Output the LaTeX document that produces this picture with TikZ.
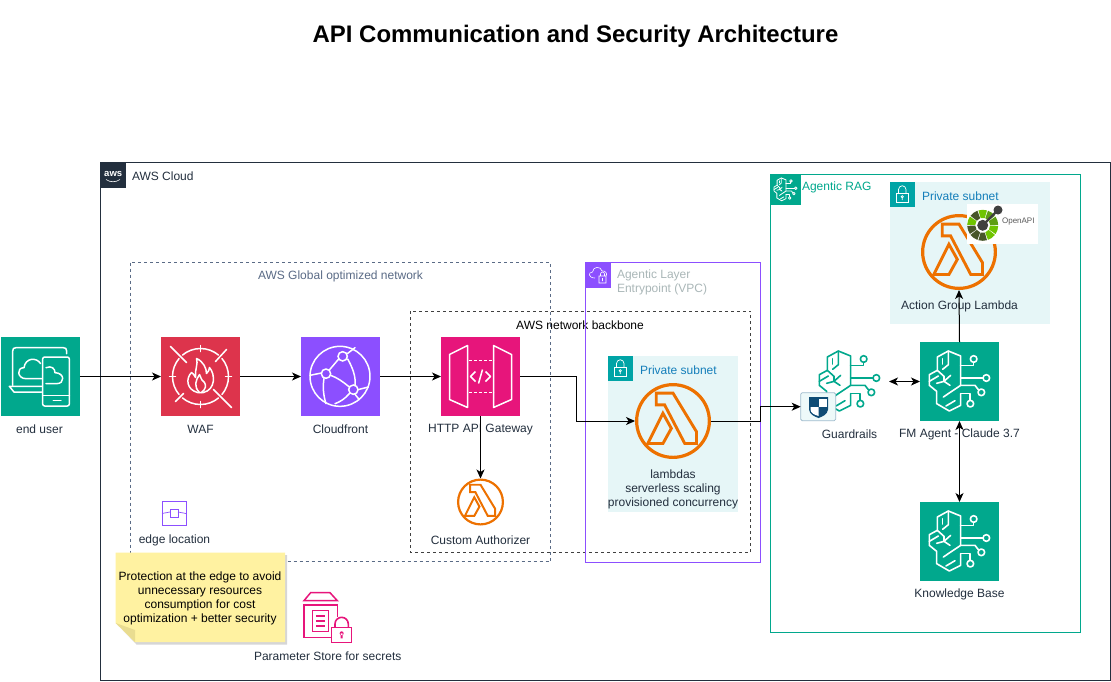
\documentclass[tikz,border=0pt]{standalone}
\usepackage{fontspec}
\setmainfont{Liberation Sans}
\usetikzlibrary{arrows.meta}
\definecolor{ink}{HTML}{232F3E}
\definecolor{teal}{HTML}{01A88D}
\definecolor{wafred}{HTML}{DD344C}
\definecolor{cfpurple}{HTML}{8C4FFF}
\definecolor{apipink}{HTML}{E7157B}
\definecolor{lamorange}{HTML}{ED7100}
\definecolor{subfill}{HTML}{E6F6F7}
\definecolor{subicon}{HTML}{00A4A6}
\definecolor{subtext}{HTML}{147EBA}
\definecolor{dashblue}{HTML}{5A6B86}
\definecolor{vpcgray}{HTML}{AAB7B8}
\definecolor{noteyellow}{HTML}{FFF2A1}
\definecolor{notefold}{HTML}{E9DC90}
\definecolor{oalime}{HTML}{6FC400}
\definecolor{oamid}{HTML}{5E9E12}
\definecolor{oaolive}{HTML}{48562A}
\definecolor{shieldblue}{HTML}{0F4C75}
\tikzset{
  lbl/.style={font=\fontsize{12}{14}\selectfont,text=ink,align=center,inner sep=0pt,outer sep=0pt,yshift=-.4pt},
  iconbox/.style={minimum size=79pt,inner sep=0pt,outer sep=0pt,anchor=north west},
  round/.style={minimum size=#1,inner sep=0pt,outer sep=0pt,circle},
  conn/.style={draw=black,line width=1pt,-{Stealth[length=9pt,width=8pt,inset=2.5pt]}},
  conn2/.style={draw=black,line width=1pt,{Stealth[length=9pt,width=8pt,inset=2.5pt]}-{Stealth[length=9pt,width=8pt,inset=2.5pt]}},
  dash3/.style={dash pattern=on 3pt off 3pt,line width=.8pt},
}
\newcommand{\BrainGlyph}[5]{% x y colour linewidth unit
 \begin{scope}[shift={(#1,#2)},x=#5pt,y=-#5pt,draw=#3,line width=#4,line join=round,line cap=round]
  \draw (122,70) -- (122,42) -- (85,27) -- (52,45) -- (52,85) -- (28,98) -- (28,130) -- (50,148) -- (50,185) -- (88,207) -- (122,190) -- (122,155);
  \draw (122,70) -- (122,130) -- (70,165);
  \draw (85,27) -- (85,68) -- (68,82);
  \draw (68,50) -- (68,66);
  \draw (52,85) -- (72,103) -- (72,118);
  \draw (28,118) -- (55,102);
  \draw (92,100) -- (72,118) -- (50,124);
  \draw (72,118) -- (90,130);
  \draw (78,192) -- (105,176);
  \draw (122,70) -- (160,70) -- (160,61);
  \draw (161,51) circle[radius=10];
  \draw (122,108) -- (189,108);
  \draw (199,108) circle[radius=10];
  \draw (122,130) -- (165,130) -- (175,143);
  \draw (184,151) circle[radius=10];
  \draw (122,155) -- (150,155) -- (150,175);
  \draw (151,185) circle[radius=10];
 \end{scope}}
\newcommand{\LambdaIcon}[5]{% cx cy scale name lw
 \node[round=#3*226pt] (#4) at (#1,#2) {};
 \begin{scope}[shift={(#1,#2)},x=#3pt,y=-#3pt,draw=lamorange,line join=miter]
  \draw[line width=#5pt] (0,0) circle[radius=#3*226pt/2-#5pt/2];
  \draw[line width=.9*#5pt] (-50,-83) -- (0,-83) -- (70,32) -- (70,67) -- (35,67) -- (-25,-48) -- (-50,-48) -- cycle;
  \draw[line width=.9*#5pt] (-30,-23) -- (-5,22) -- (-30,67) -- (-75,67) -- cycle;
 \end{scope}}
\newcommand{\SubnetIcon}[2]{%
 \fill[subicon] (#1,#2) rectangle ++(24.5,24.5);
 \begin{scope}[shift={(#1,#2)},x=1pt,y=-1pt]
  \draw[white,line width=.7pt] (6,11) rectangle (18.5,20.5);
  \draw[white,line width=.7pt] (8.5,11) -- (8.5,7.5) arc[start angle=180,end angle=0,radius=3.75pt] -- (16,11);
  \draw[white,line width=.7pt] (12.25,14.8) circle[radius=1.1pt] (12.25,16) -- (12.25,18);
 \end{scope}}
\begin{document}
\begin{tikzpicture}[x=1pt,y=-1pt]
\useasboundingbox (0,0) rectangle (1111,681);
\fill[white] (0,0) rectangle (1111,681);
% title
\node[font=\fontsize{23.95}{28}\bfseries\selectfont,text=black,inner sep=0pt] (title) at (575.5,36) {API Communication and Security Architecture};
% containers
\draw[ink,line width=1pt] (100.5,162.5) rectangle (1110.5,680.5);
\fill[ink] (101,163) rectangle (125.5,187.5);
\node[font=\fontsize{9.5}{10}\bfseries\selectfont,text=white,inner sep=0pt] (awslogo) at (113.2,173.5) {aws};
\draw[white,line width=.6pt] (106,179.5) .. controls (110,182.5) and (116,182.5) .. (120,179.5);
\node[lbl,anchor=west] (cloudlbl) at (132,175.5) {AWS Cloud};
\draw[dashblue,dash3] (130.5,262.5) rectangle (550.5,561.5);
\node[lbl,text=dashblue] (globallbl) at (340.5,275.5) {AWS Global optimized network};
% private subnet 1
\fill[subfill] (608,356) rectangle (738,512);
\SubnetIcon{608}{356}
\node[lbl,anchor=west,text=subtext] (sub1) at (640,369.5) {Private subnet};
\draw[black!75,dash3] (410.5,311) rectangle (750.5,552.5);
\node[lbl,text=black] (bblbl) at (580,325) {AWS network backbone};
% VPC
\draw[cfpurple,line width=1pt] (585.5,262.5) rectangle (760.5,562.5);
\fill[cfpurple] (585.5,262.5) rectangle (610.5,287.5);
\begin{scope}[shift={(586,263)},x=1pt,y=-1pt]
 \draw[white,line width=.6pt] (9,15) .. controls (2,15) and (2,9) .. (6.5,9) .. controls (7,3) and (15,3) .. (16,8) .. controls (19,7) and (22,11) .. (20,13);
 \draw[white,line width=.6pt] (13,13) rectangle (20,20) (14.5,13) -- (14.5,11) arc[start angle=180,end angle=0,radius=2pt] -- (18.5,13) (16.5,15) -- (16.5,18);
\end{scope}
\node[lbl,anchor=north west,text=vpcgray,align=left] (vpclbl) at (617,269) {Agentic Layer\\Entrypoint (VPC)};
% RAG
\draw[teal,line width=1pt] (770.5,174.5) rectangle (1080.5,632.5);
\fill[teal] (770.5,174.5) rectangle (800.5,204.5);
\BrainGlyph{770.5}{174.5}{white}{.8pt}{.127}
\node[lbl,anchor=west,text=teal] (raglbl) at (802,187) {Agentic RAG};
\fill[subfill] (890,182) rectangle (1050,324);
\SubnetIcon{890}{182}
\node[lbl,anchor=west,text=subtext] (sub2) at (922,195.5) {Private subnet};
% end user
\node[iconbox,fill=teal] (user) at (0.5,337) {};
\begin{scope}[shift={(0,337)},x=.3333pt,y=-.3333pt,draw=white,line width=1.5pt,line join=round,line cap=round]
 \draw (38,145) -- (38,42) .. controls (38,35) and (41,32) .. (48,32) -- (190,32) .. controls (197,32) and (200,35) .. (200,42) -- (200,50);
 \draw (125,148) -- (28,148) -- (42,165) -- (125,165);
 \draw[rounded corners=2pt] (128,60) rectangle (208,207);
 \draw (128,175) -- (208,175);
 \draw (160,190) -- (183,190);
 \draw (125,125) -- (78,125) .. controls (52,125) and (48,92) .. (72,92) .. controls (76,62) and (110,60) .. (122,80);
 \draw (138,92) .. controls (155,85) and (165,95) .. (165,107) .. controls (195,108) and (195,140) .. (170,140) -- (138,140);
\end{scope}
\node[lbl] (userlbl) at (39.5,429) {end user};
% WAF
\node[iconbox,fill=wafred] (waf) at (161,337) {};
\begin{scope}[shift={(waf.center)},x=1pt,y=-1pt,draw=white,line width=1.5pt,line cap=round,line join=round]
 \draw (-30,-30) -- (-14,-14) (26,-27) -- (15,-15) (-25,25) -- (-17,17) (31,31) -- (13,13);
 \draw (0,-28) arc[start angle=90,end angle=50,radius=28pt] (0,-28) arc[start angle=90,end angle=130,radius=28pt];
 \draw (28,0) arc[start angle=0,end angle=40,radius=28pt] (28,0) arc[start angle=0,end angle=-40,radius=28pt];
 \draw (0,28) arc[start angle=-90,end angle=-50,radius=28pt] (0,28) arc[start angle=-90,end angle=-130,radius=28pt];
 \draw (-28,0) arc[start angle=180,end angle=140,radius=28pt] (-28,0) arc[start angle=180,end angle=220,radius=28pt];
 \draw (0,-31) -- (0,-25) (31,0) -- (25,0) (0,31) -- (0,25) (-31,0) -- (-25,0);
 \draw (-3,16) .. controls (-14,13) and (-15,2) .. (-9,-4) .. controls (-6,-2) and (-6,0) .. (-5,1) .. controls (-6,-6) and (-2,-13) .. (-4,-18) .. controls (3,-15) and (6,-8) .. (6,-3) .. controls (8,-5) and (9,-7) .. (9,-9) .. controls (15,-2) and (15,13) .. (3,16) -- cycle;
 \draw (-1,16) .. controls (-7,10) and (-5,4) .. (-1,-2) .. controls (1,3) and (2,5) .. (4,6) .. controls (6,9) and (5,13) .. (1,16);
\end{scope}
\node[lbl] (waflbl) at (200.5,429) {WAF};
% Cloudfront
\node[iconbox,fill=cfpurple] (cf) at (301,337) {};
\begin{scope}[shift={(300,337)},x=.3333pt,y=-.3333pt,draw=white,line width=1.5pt,line cap=round]
 \draw (120,118) circle[radius=90];
 \draw (128,58) circle[radius=14] (78,110) circle[radius=14] (160,158) circle[radius=14];
 \draw (30,115) -- (64,108);
 \draw (88,99) -- (116,66);
 \draw (142,50) -- (165,32);
 \draw (143,66) .. controls (158,92) and (168,120) .. (165,144);
 \draw (92,115) .. controls (112,122) and (130,135) .. (148,150);
 \draw (72,124) .. controls (68,150) and (70,175) .. (78,200);
 \draw (105,200) .. controls (120,195) and (135,185) .. (148,170);
 \draw (165,172) -- (178,188);
 \draw (174,158) -- (205,150);
\end{scope}
\node[lbl] (cflbl) at (340.5,429) {Cloudfront};
% Gateway
\node[iconbox,fill=apipink] (gw) at (441,337) {};
\begin{scope}[shift={(gw.center)},x=1pt,y=-1pt,draw=white,line width=1.5pt,line join=round]
 \draw (-31,-22) -- (-13,-31) -- (-13,31) -- (-31,23) -- cycle;
 \draw (31,-22) -- (13,-31) -- (13,31) -- (31,23) -- cycle;
 \draw[dash pattern=on 3pt off 2pt] (-12,-16) -- (13,-16) (-12,16) -- (13,16);
 \draw (-5,-5) -- (-10,0) -- (-5,5) (5,-5) -- (10,0) -- (5,5) (-2,7) -- (2,-7);
\end{scope}
\node[lbl] (gwlbl) at (480.5,429) {HTTP API Gateway};
% lambdas
\LambdaIcon{673}{421}{.336}{lam}{3.2}
\node[lbl] (lamlbl) at (673,488.5) {lambdas\\serverless scaling\\provisioned concurrency};
\LambdaIcon{480.5}{502}{.208}{auth}{2.2}
\node[lbl] (authlbl) at (480.5,540) {Custom Authorizer};
\LambdaIcon{959}{252}{.336}{action}{3.2}
\node[lbl] (actionlbl) at (959.5,306) {Action Group Lambda};
% OpenAPI badge
\fill[white] (967,204) rectangle (1038,244);
\begin{scope}[shift={(982.7,225.3)},x=1pt,y=-1pt]
 \foreach \a/\c in {0/oamid,36/oamid,72/oalime,108/oaolive,144/oalime,180/oaolive,216/oaolive,252/oaolive,288/oalime,324/oalime}{
  \fill[\c] (\a+2:7.5pt) -- (\a+2:15.5pt) arc[start angle=\a+2,end angle=\a+34,radius=15.5pt] -- (\a+34:7.5pt) arc[start angle=\a+34,end angle=\a+2,radius=7.5pt] -- cycle;
 }
 \draw[black!75,line width=2.2pt] (0,0) -- (15.3,-15.3);
 \fill[black!75] (0,0) circle[radius=5.5pt] (15.3,-15.3) circle[radius=4.5pt];
\end{scope}
\node[font=\fontsize{8}{9}\selectfont,text=black!65,inner sep=0pt] (oalbl) at (1018.3,221.7) {OpenAPI};
% FM agent
\node[iconbox,fill=teal] (fm) at (920,342) {};
\BrainGlyph{920}{342}{white}{1.6pt}{.3333}
\node[lbl] (fmlbl) at (959.5,434) {FM Agent - Claude 3.7};
% Guardrails
\node[iconbox] (guard) at (810,342) {};
\BrainGlyph{810}{342}{teal}{1.6pt}{.3333}
\node[minimum width=35pt,minimum height=28pt,inner sep=0pt,outer sep=0pt,anchor=north west,fill=subfill!70!white,draw=black!30!subtext!40!white,line width=.8pt,rounded corners=1.5pt] (shield) at (800.7,392.7) {};
\begin{scope}[shift={(818.5,406.5)},x=1pt,y=-1pt]
 \fill[shieldblue] (-9.5,-9.5) -- (9.5,-9.5) -- (9.5,3) .. controls (9,8) and (4,10) .. (0,11.5) .. controls (-4,10) and (-9,8) .. (-9.5,3) -- cycle;
 \fill[white] (0,-8) -- (8,-8) -- (8,0.5) -- (0,0.5) -- cycle;
 \fill[white] (-8,0.5) -- (0,0.5) -- (0,9.5) .. controls (-3,8.5) and (-8,7) .. (-8,3) -- cycle;
\end{scope}
\node[lbl] (guardlbl) at (849.5,434) {Guardrails};
% KB
\node[iconbox,fill=teal] (kb) at (920,502) {};
\BrainGlyph{920}{502}{white}{1.6pt}{.3333}
\node[lbl] (kblbl) at (959.5,594) {Knowledge Base};
% edge location
\node[minimum size=24pt,inner sep=0pt,outer sep=0pt,draw=cfpurple,line width=1pt] (edge) at (174,513.5) {};
\draw[cfpurple,line width=.9pt] (170,509.5) rectangle (178,517.5);
\draw[cfpurple,line width=.7pt] (edge.west) -- (170,512) (178,512) -- (edge.east);
\node[lbl] (edgelbl) at (174.5,540) {edge location};
% Note
\fill[black,opacity=.16] (117.7,555) -- (287,555) -- (287,644.5) -- (136.5,644.5) -- (117.7,625) -- cycle;
\fill[noteyellow] (115.7,552.7) -- (285,552.7) -- (285,642) -- (135,642) -- (115.7,623) -- cycle;
\fill[notefold] (115.7,623) -- (135,630) -- (135,642) -- cycle;
\node[lbl,text=black] (note) at (200,597.5) {Protection at the edge to avoid\\unnecessary resources\\consumption for cost\\optimization + better security};
% Parameter store
\begin{scope}[shift={(100,480)},x=.3333pt,y=-.3333pt,draw=apipink,line width=1.5pt,line join=miter]
 \draw (612,362) -- (632,338) -- (690,338) -- (712,362) -- cycle;
 \draw (712,410) -- (712,375) -- (612,375) -- (612,472) -- (695,472);
 \draw (638,392) rectangle (685,455);
 \draw (648,408) -- (675,408) (648,423) -- (675,423) (648,438) -- (675,438);
 \draw[line width=1.6pt] (695,443) rectangle (755,487);
 \draw[line width=1.6pt] (705,443) -- (705,432) arc[start angle=180,end angle=360,radius=20] -- (745,443);
 \fill[apipink] (725,460) circle[radius=6] (722,460) rectangle (728,475);
\end{scope}
\node[minimum width=48pt,minimum height=50pt,inner sep=0pt] (param) at (328,617.5) {};
\node[lbl] (paramlbl) at (327.7,655.5) {Parameter Store for secrets};
% connectors
\draw[conn] (user.east) -- (waf.west);
\draw[conn] (waf.east) -- (cf.west);
\draw[conn] (cf.east) -- (gw.west);
\draw[conn] (gw.east) -- ++(56.5,0) |- (lam.west);
\draw[conn] (gw.south) -- (auth.north);
\draw[conn] (lam.east) -- ++(50,0) |- (shield.west);
\draw[conn2] (guard.east) -- (fm.west);
\draw[conn] (fm.north) -- (action.south);
\draw[conn2] (kb.north) -- (fm.south);
\end{tikzpicture}
\end{document}
